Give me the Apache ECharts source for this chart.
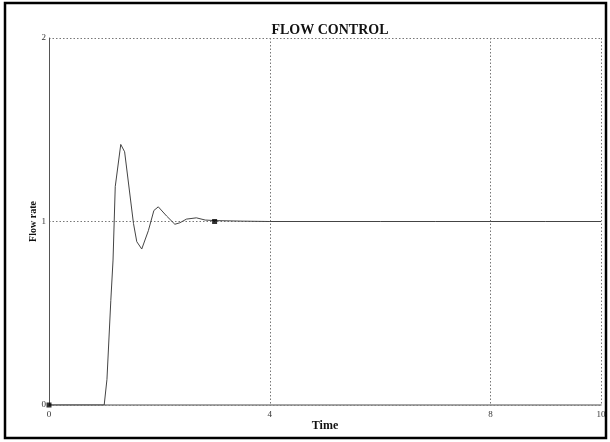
<!DOCTYPE html>
<html>
<head>
    <meta charset="utf-8">
    <title>Flow control</title>
    <script src="https://cdn.jsdelivr.net/npm/echarts@6/dist/echarts.min.js"></script>
    <style>
        body { margin: 0; background: #fff; }
    </style>
</head>
<body>
    <div id="main" style="width: 610px;height:442px;"></div>

    <script type="text/javascript">
        // step response
        var times = [0, 1.0, 1.05, 1.12, 1.16, 1.2, 1.3, 1.37, 1.53, 1.59, 1.68, 1.8, 1.9, 1.98, 2.13, 2.28, 2.37, 2.49, 2.67, 2.83, 3.0, 3.5, 4, 5, 6, 7, 8, 9, 10];
        var flow  = [0, 0, 0.14, 0.57, 0.79, 1.19, 1.42, 1.38, 0.99, 0.89, 0.85, 0.95, 1.06, 1.08, 1.03, 0.985, 0.993, 1.013, 1.02, 1.008, 1.005, 1.002, 1.0, 1.0, 1.0, 1.0, 1.0, 1.0, 1.0];
        // the two small square markers
        var markTimes = [0, 3];
        var markFlow  = [0, 1];

        var lineData = times.map(function (t, i) { return [t, flow[i]]; });
        var markData = markTimes.map(function (t, i) { return [t, markFlow[i]]; });

        var myChart = echarts.init(document.getElementById('main'));

        var serif = '"Liberation Serif", "DejaVu Serif", serif';

        var option = {
            animation: false,
            backgroundColor: '#fff',
            title: {
                text: 'FLOW CONTROL',
                left: 325,
                textAlign: 'center',
                top: 18,
                textStyle: { fontFamily: serif, fontWeight: 'bold', fontSize: 14, color: '#111' }
            },
            grid: { left: 49, right: 9, top: 38, bottom: 37 },
            xAxis: {
                type: 'value',
                min: 0, max: 10, interval: 4,
                name: 'Time',
                nameLocation: 'middle',
                nameGap: 15,
                nameMoveOverlap: false,
                nameTextStyle: { fontFamily: serif, fontWeight: 'bold', fontSize: 12, color: '#111' },
                axisLine: { lineStyle: { color: '#888', width: 1.5 } },
                axisTick: { show: false },
                axisLabel: { fontFamily: serif, fontSize: 9, color: '#333', margin: 5 },
                splitLine: { show: true, lineStyle: { color: '#777', type: [1.5, 2], width: 1 } }
            },
            yAxis: {
                type: 'value',
                min: 0, max: 2, interval: 1,
                name: 'Flow rate',
                nameLocation: 'middle',
                nameGap: 11,
                nameMoveOverlap: false,
                nameRotate: 90,
                nameTextStyle: { fontFamily: serif, fontWeight: 'bold', fontSize: 10, color: '#111' },
                axisLine: { show: true, lineStyle: { color: '#555', width: 1 } },
                axisTick: { show: false },
                axisLabel: { fontFamily: serif, fontSize: 9, color: '#333', margin: 3 },
                splitLine: { show: true, lineStyle: { color: '#777', type: [1.5, 2], width: 1 } }
            },
            series: [{
                type: 'line',
                data: lineData,
                showSymbol: false,
                lineStyle: { color: '#444', width: 1 }
            }, {
                type: 'scatter',
                data: markData,
                symbol: 'rect',
                symbolSize: 5,
                itemStyle: { color: '#000' },
                z: 5
            }],
            graphic: [{
                type: 'rect',
                shape: { x: 5, y: 3, width: 601, height: 435 },
                style: { fill: 'none', stroke: '#000', lineWidth: 2.5 },
                silent: true
            }]
        };

        myChart.setOption(option);
    </script>
</body>
</html>
